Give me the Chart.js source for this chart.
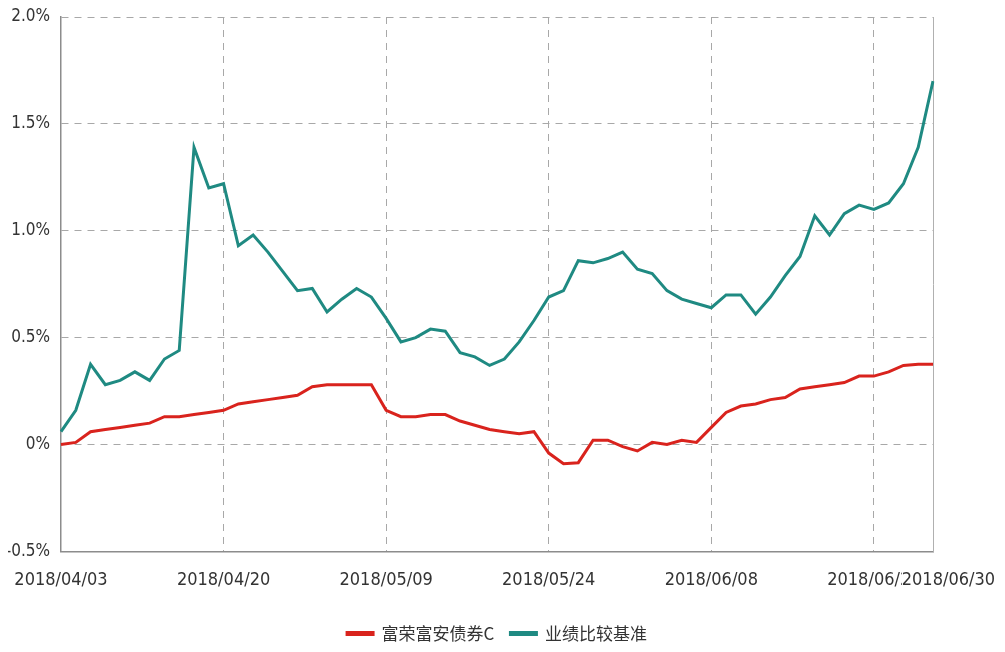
<!DOCTYPE html>
<html>
<head>
<meta charset="utf-8">
<script src="https://cdn.jsdelivr.net/npm/chart.js@4/dist/chart.umd.min.js"></script>
<style>
  html, body { margin: 0; padding: 0; background: #fff; }
  #wrap { width: 1005px; height: 652px; position: relative; }
</style>
</head>
<body>
<div id="wrap"><canvas id="chart"></canvas></div>
<script>
// Trading days 2018/04/03 - 2018/06/30
const dates = [
    '2018/04/03', '2018/04/04', '2018/04/09', '2018/04/10', '2018/04/11', '2018/04/12',
    '2018/04/13', '2018/04/16', '2018/04/17', '2018/04/18', '2018/04/19', '2018/04/20',
    '2018/04/23', '2018/04/24', '2018/04/25', '2018/04/26', '2018/04/27', '2018/05/02',
    '2018/05/03', '2018/05/04', '2018/05/07', '2018/05/08', '2018/05/09',
    '2018/05/10', '2018/05/11', '2018/05/14', '2018/05/15', '2018/05/16', '2018/05/17',
    '2018/05/18', '2018/05/21', '2018/05/22', '2018/05/23', '2018/05/24',
    '2018/05/25', '2018/05/28', '2018/05/29', '2018/05/30', '2018/05/31', '2018/06/01',
    '2018/06/04', '2018/06/05', '2018/06/06', '2018/06/07', '2018/06/08',
    '2018/06/11', '2018/06/12', '2018/06/13', '2018/06/14', '2018/06/15', '2018/06/19',
    '2018/06/20', '2018/06/21', '2018/06/22', '2018/06/25', '2018/06/26',
    '2018/06/27', '2018/06/28', '2018/06/29', '2018/06/30'
];

// Fund return (%)
const fundReturn = [
    0.00, 0.01, 0.06, 0.07, 0.08, 0.09, 0.10, 0.13, 0.13, 0.14, 0.15, 0.16,
    0.19, 0.20, 0.21, 0.22, 0.23, 0.27, 0.28, 0.28, 0.28, 0.28, 0.16,
    0.13, 0.13, 0.14, 0.14, 0.11, 0.09, 0.07, 0.06, 0.05, 0.06, -0.04,
    -0.09, -0.085, 0.02, 0.02, -0.01, -0.03, 0.01, 0.00, 0.02, 0.01, 0.08,
    0.15, 0.18, 0.19, 0.21, 0.22, 0.26, 0.27, 0.28, 0.29, 0.32, 0.32,
    0.34, 0.37, 0.375, 0.375
];

// Benchmark return (%)
const benchReturn = [
    0.06, 0.16, 0.375, 0.28, 0.30, 0.34, 0.30, 0.40, 0.44, 1.39, 1.20, 1.22,
    0.93, 0.98, 0.90, 0.81, 0.72, 0.73, 0.62, 0.68, 0.73, 0.69, 0.59,
    0.48, 0.50, 0.54, 0.53, 0.43, 0.41, 0.37, 0.40, 0.48, 0.58, 0.69,
    0.72, 0.86, 0.85, 0.87, 0.90, 0.82, 0.80, 0.72, 0.68, 0.66, 0.64,
    0.70, 0.70, 0.61, 0.69, 0.79, 0.88, 1.07, 0.98, 1.08, 1.12, 1.10,
    1.13, 1.22, 1.39, 1.70
];

// Which dates get a label on the x axis
const labelIdx = [0, 11, 22, 33, 44, 55, 59];
const yTicks = [-0.5, 0, 0.5, 1.0, 1.5, 2.0];

const seriesNames = ['富荣富安债券C', '业绩比较基准'];
const seriesColors = ['#d9231d', '#1f8a82'];

const narrowFont = "'DejaVu Sans Condensed', 'Liberation Sans Narrow', sans-serif";
const gridColor = '#a8a8a8';
const axisColor = '#8c8c8c';
const lastTick = labelIdx.length - 1;

const ctx = document.getElementById('chart').getContext('2d');
new Chart(ctx, {
    type: 'line',
    data: {
        labels: dates,
        datasets: [{
            label: seriesNames[0],
            data: fundReturn,
            borderColor: seriesColors[0],
            backgroundColor: seriesColors[0],
            borderWidth: 3,
            pointRadius: 0,
            tension: 0
        }, {
            label: seriesNames[1],
            data: benchReturn,
            borderColor: seriesColors[1],
            backgroundColor: seriesColors[1],
            borderWidth: 3,
            pointRadius: 0,
            tension: 0
        }]
    },
    options: {
        responsive: true,
        maintainAspectRatio: false,
        animation: false,
        devicePixelRatio: 1,
        layout: {
            padding: { left: 8, right: 72, top: 17, bottom: 0 }
        },
        plugins: {
            tooltip: { enabled: false },
            legend: {
                position: 'bottom',
                fullSize: false,
                labels: {
                    boxWidth: 26,
                    boxHeight: 2,
                    padding: 16,
                    color: '#333',
                    font: { family: "'Noto Sans CJK SC', sans-serif", size: 17 }
                }
            }
        },
        scales: {
            x: {
                offset: false,
                afterBuildTicks: axis => {
                    axis.ticks = axis.ticks.filter(t => labelIdx.includes(t.value));
                },
                // labels may hang over the plot edges, like the original
                afterFit: axis => {
                    axis.paddingLeft = 0;
                    axis.paddingRight = 0;
                },
                grid: {
                    drawTicks: false,
                    color: c => (c.index === 0 || c.index === lastTick) ? 'rgba(0,0,0,0)' : gridColor,
                    lineWidth: 1
                },
                border: { display: true, color: axisColor, width: 1.5, dash: [7, 6] },
                ticks: {
                    autoSkip: false,
                    maxRotation: 0,
                    padding: 18,
                    color: '#333',
                    font: { family: narrowFont, size: 18 },
                    callback: function (value, index) {
                        const text = this.getLabelForValue(value);
                        // the last date is pushed right and overlaps the previous one
                        return index === lastTick ? '      ' + text : text;
                    },
                    showLabelBackdrop: c => c.index === lastTick,
                    backdropColor: '#ffffff',
                    backdropPadding: { left: -31, right: 2, top: 0, bottom: 0 }
                }
            },
            y: {
                min: -0.5,
                max: 2.0,
                afterBuildTicks: axis => {
                    axis.ticks = yTicks.map(v => ({ value: v }));
                },
                afterFit: axis => {
                    axis.width = 53;
                    axis.paddingTop = 0;
                    axis.paddingBottom = 0;
                },
                grid: {
                    drawTicks: false,
                    color: gridColor,
                    lineWidth: 1
                },
                border: { display: true, color: axisColor, width: 1.5, dash: [7, 6] },
                ticks: {
                    padding: 11,
                    color: '#333',
                    font: { family: narrowFont, size: 17 },
                    callback: v => v === 0 ? '0%' : v.toFixed(1) + '%'
                }
            },
            // right frame line
            yRight: {
                position: 'right',
                min: -0.5,
                max: 2.0,
                grid: { display: false, drawTicks: false },
                ticks: { display: false },
                border: { display: true, color: '#b0b0b0', width: 1 }
            }
        }
    }
});
</script>
</body>
</html>
